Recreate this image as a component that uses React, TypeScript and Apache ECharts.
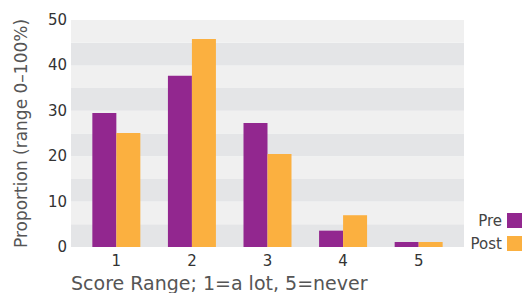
import React, { useEffect, useRef } from "react";
import * as echarts from "echarts";

const categories = [1, 2, 3, 4, 5];
const preValues = [29.5, 37.7, 27.3, 3.6, 1.1];
const postValues = [25.1, 45.8, 20.5, 7.0, 1.1];
const yLabelTicks = [0, 10, 20, 30, 40, 50];
const seriesNames = ["Pre", "Post"];

export default function App() {
  const ref = useRef<HTMLDivElement>(null);
  useEffect(() => {
    if (!ref.current) return;
    const chart = echarts.init(ref.current, null, { renderer: "svg" });
    const font = "DejaVu Sans";
    chart.setOption({
      animation: false,
      textStyle: { fontFamily: font },
      grid: { left: 71, right: 60, top: 20, bottom: 46 },
      legend: {
        orient: "vertical",
        right: -3,
        top: 208,
        align: "right",
        itemWidth: 15,
        itemHeight: 15,
        itemGap: 8,
        icon: "rect",
        textStyle: { fontSize: 15, color: "#444", fontFamily: font },
        data: seriesNames,
      },
      xAxis: {
        type: "value",
        min: 0.4,
        max: 5.6,
        splitLine: { show: false },
        axisLine: { show: false },
        axisTick: { show: false },
        axisLabel: {
          customValues: categories,
          fontSize: 15,
          color: "#333",
          margin: 6,
          fontFamily: font,
        },
        name: "Score Range; 1=a lot, 5=never",
        nameLocation: "start",
        nameGap: 0,
        nameTextStyle: {
          align: "left",
          verticalAlign: "top",
          fontSize: 19,
          color: "#555",
          padding: [26, 0, 0, 0],
          fontFamily: font,
        },
      },
      yAxis: {
        type: "value",
        min: 0,
        max: 50,
        interval: 5,
        axisLine: { show: false },
        axisTick: { show: false },
        splitLine: { show: false },
        splitArea: {
          show: true,
          areaStyle: { color: ["#e4e5e7", "#f0f0f0"] },
        },
        axisLabel: {
          fontSize: 15,
          color: "#333",
          margin: 4,
          fontFamily: font,
          formatter: (v: number) => (yLabelTicks.includes(v) ? String(v) : ""),
        },
        name: "Proportion (range 0\u2013100%)",
        nameLocation: "middle",
        nameGap: 42,
        nameTextStyle: { fontSize: 17, color: "#555", fontFamily: font },
      },
      series: [
        {
          name: seriesNames[0],
          type: "bar",
          barWidth: 24,
          barGap: "0%",
          itemStyle: { color: "#92278f" },
          data: categories.map((c, i) => [c, preValues[i]]),
        },
        {
          name: seriesNames[1],
          type: "bar",
          barWidth: 24,
          barGap: "0%",
          itemStyle: { color: "#fbb040" },
          data: categories.map((c, i) => [c, postValues[i]]),
        },
      ],
    });
    return () => chart.dispose();
  }, []);
  return <div ref={ref} style={{ width: 524, height: 293, position: "absolute", left: 0, top: 0 }} />;
}
